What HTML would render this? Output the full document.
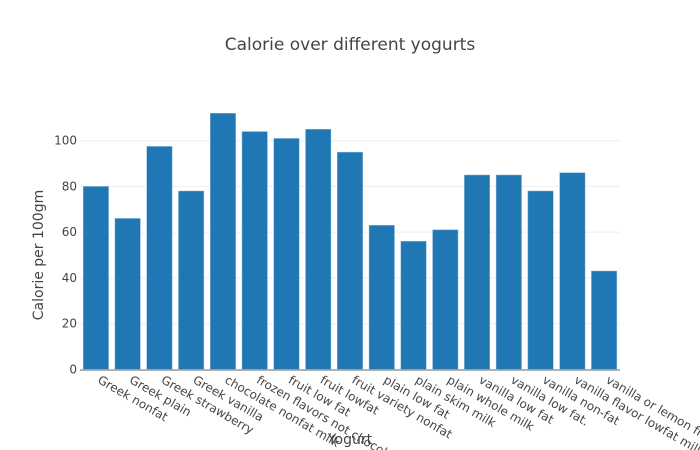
<!DOCTYPE html>
<html><head><meta charset="utf-8"><style>
body{margin:0;background:#fff}
svg{display:block;font-family:"DejaVu Sans","Liberation Sans",sans-serif}
</style></head><body>
<svg id="chart" width="700" height="450">
<text x="350" y="50" text-anchor="middle" font-size="17" fill="#444">Calorie over different yogurts</text>
<g id="grid"></g>
<g id="yticks"></g>
<g id="bars"></g>
<g id="xticks"></g>
<text transform="translate(43,255) rotate(-90)" text-anchor="middle" font-size="14" fill="#444">Calorie per 100gm</text>
<text x="350" y="444" text-anchor="middle" font-size="14" fill="#444">Yogurt</text>
</svg>
<script>
const categories=["Greek nonfat","Greek plain","Greek strawberry","Greek vanilla","chocolate nonfat milk","frozen flavors not chocolate","fruit low fat","fruit lowfat","fruit variety nonfat","plain low fat","plain skim milk","plain whole milk","vanilla low fat","vanilla low fat.","vanilla non-fat","vanilla flavor lowfat milk","vanilla or lemon flavors"];
const values=[80,66,97.5,78,112,104,101,105,95,63,56,61,85,85,78,86,43];
const yTicks=[0,20,40,60,80,100];
const x0=80,x1=620,yBase=369.3,yScale=2.286;
const ns="http://www.w3.org/2000/svg";
const band=(x1-x0)/categories.length;
const xPos=i=>x0+band*i;
const yPos=v=>yBase-v*yScale;
function mk(t,a,p){const e=document.createElementNS(ns,t);for(const k in a)e.setAttribute(k,a[k]);p.appendChild(e);return e;}
const grid=document.getElementById('grid'),yt=document.getElementById('yticks'),bars=document.getElementById('bars'),xt=document.getElementById('xticks');
yTicks.forEach(v=>{
  if(v>0){const l=mk('line',{x1:x0,x2:x1,y1:yPos(v),y2:yPos(v),stroke:'#eee','stroke-width':1},grid);
  
  }
  const t=mk('text',{x:x0-3,y:yPos(v)+4,'text-anchor':'end','font-size':12,fill:'#444'},yt);
  t.textContent=v;
  
  
});
values.forEach((v,i)=>{
  const r=mk('rect',{x:xPos(i)+band*0.1,y:yPos(v),width:band*0.8,height:yBase-yPos(v),fill:'#1f77b4',stroke:'#8fb8db','stroke-width':0.5},bars);
  
  
});
const ax=mk('line',{x1:x0,x2:x1,y1:yBase+0.7,y2:yBase+0.7,stroke:'#999','stroke-width':1.5},bars);


categories.forEach((c,i)=>{
  const cx=xPos(i)+band/2;
  const t=mk('text',{transform:`translate(${cx+1},${yBase+13}) rotate(30)`,'font-size':12,fill:'#444'},xt);
  t.textContent=c;
  
  
});
</script>
</body></html>
